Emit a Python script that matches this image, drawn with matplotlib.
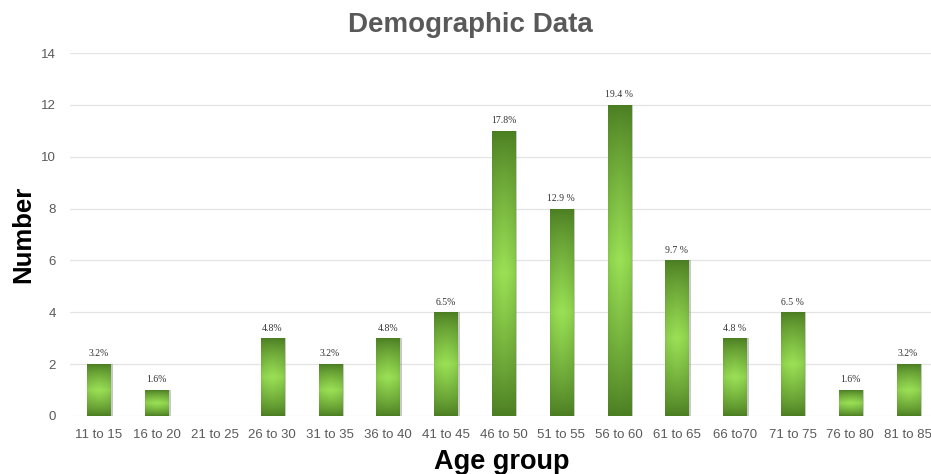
import numpy as np
import matplotlib
matplotlib.use("Agg")
import matplotlib.pyplot as plt
from matplotlib.colors import LinearSegmentedColormap

# age groups and counts
age_groups = ["11 to 15", "16 to 20", "21 to 25", "26 to 30", "31 to 35",
              "36 to 40", "41 to 45", "46 to 50", "51 to 55", "56 to 60",
              "61 to 65", "66 to70", "71 to 75", "76 to 80", "81 to 85"]
counts = [2, 1, 0, 3, 2, 3, 4, 11, 8, 12, 6, 3, 4, 1, 2]
pct_labels = ["3.2%", "1.6%", "", "4.8%", "3.2%", "4.8%", "6.5%", "17.8%",
              "12.9 %", "19.4 %", "9.7 %", "4.8 %", "6.5 %", "1.6%", "3.2%"]
y_ticks = [0, 2, 4, 6, 8, 10, 12, 14]

plt.rcParams['font.family'] = ['Liberation Sans', 'DejaVu Sans']

fig = plt.figure(figsize=(9.31, 4.74), dpi=100)
ax = fig.add_axes([70 / 931, 58 / 474, 867 / 931, 363 / 474])

x = np.arange(len(age_groups))
bar_w = 0.4

# green gradient: dark at the ends, bright in the middle
green = LinearSegmentedColormap.from_list("green", ["#4b7d22", "#9ae055"])
ny, nx = 100, 30
yy = np.linspace(0, 1, ny)[:, None]
xx = np.linspace(0, 1, nx)[None, :]
vert = 1 - np.abs(yy - 0.5) * 2
horiz = 1 - np.abs(xx - 0.5) * 2
grad = np.clip(vert ** 0.8 * (0.75 + 0.25 * horiz ** 0.5), 0, 1)

bars = ax.bar(x, counts, width=bar_w, color="none", edgecolor="none", zorder=3)
for rect, h in zip(bars, counts):
    if h <= 0:
        continue
    x0 = rect.get_x()
    # soft shadow on the right side
    ax.bar(x0 + bar_w / 2 + 0.04, h, width=bar_w, color="#7a7a7a",
           alpha=0.4, zorder=2, edgecolor="none")
    im = ax.imshow(grad, cmap=green, aspect="auto", origin="lower",
                   extent=(x0, x0 + bar_w, 0, h), zorder=3,
                   interpolation="bilinear")
    im.set_clip_path(rect)

for xi, h, lab in zip(x, counts, pct_labels):
    if lab:
        ax.text(xi, h + 0.22, lab, ha="center", va="bottom", fontsize=7,
                family=["Liberation Serif", "DejaVu Serif"], color="#333333",
                zorder=4)

ax.set_xlim(-0.5, len(age_groups) - 0.5)
ax.set_ylim(0, 14)
ax.set_yticks(y_ticks)
ax.set_xticks(x)
ax.set_xticklabels(age_groups)
ax.tick_params(axis="both", length=0, labelsize=9.5, colors="#5a5a5a")
ax.tick_params(axis="x", pad=9)
ax.tick_params(axis="y", pad=10)
ax.grid(axis="y", color="#e4e4e4", linewidth=0.9, zorder=0)
ax.set_axisbelow(True)
for s in ax.spines.values():
    s.set_visible(False)

ax.set_ylabel("Number", fontsize=18.5, fontweight="bold", color="black",
              labelpad=4)
ax.set_xlabel("Age group", fontsize=19.5, fontweight="bold", color="black",
              va="baseline")
ax.xaxis.set_label_coords(502 / 931, 5 / 474, transform=fig.transFigure)
fig.text(470 / 931, 1 - 25 / 474, "Demographic Data", ha="center",
         va="center", fontsize=20, fontweight="bold", color="#595959")

fig.savefig("out.png", dpi=100)
